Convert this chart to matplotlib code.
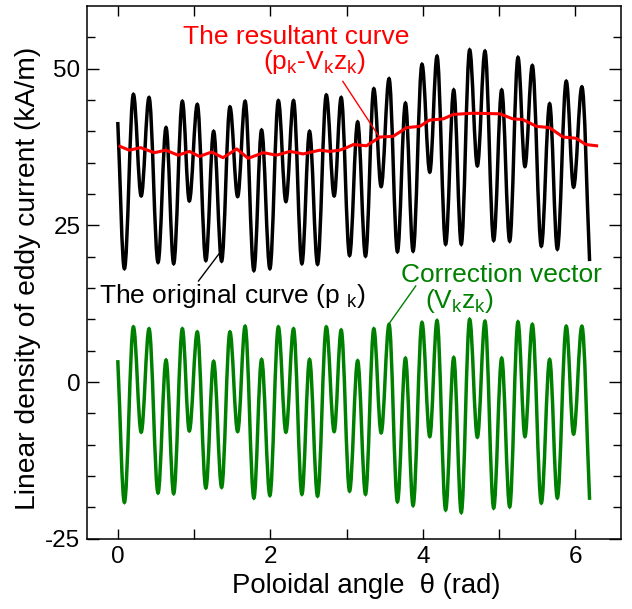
import numpy as np
import matplotlib
matplotlib.use("Agg")
import matplotlib.pyplot as plt
from matplotlib.path import Path
from matplotlib.patches import PathPatch

plt.rcParams['font.family'] = ['Liberation Sans', 'DejaVu Sans']
plt.rcParams['mathtext.fontset'] = 'custom'
plt.rcParams['mathtext.rm'] = 'Liberation Sans'
plt.rcParams['axes.unicode_minus'] = False

# turning points (rad) shared by the original curve and the correction vector
theta_ext = [0.0, 0.087, 0.205, 0.307, 0.41, 0.528, 0.633, 0.733, 0.847, 0.938,
             1.043, 1.155, 1.257, 1.362, 1.471, 1.572, 1.67, 1.785, 1.886, 1.995,
             2.106, 2.205, 2.305, 2.415, 2.515, 2.62, 2.735, 2.838, 2.93, 3.04,
             3.146, 3.249, 3.358, 3.454, 3.558, 3.668, 3.773, 3.873, 3.99, 4.092,
             4.187, 4.3, 4.406, 4.505, 4.615, 4.716, 4.816, 4.93, 5.035, 5.14,
             5.249, 5.34, 5.437, 5.555, 5.664, 5.765, 5.882, 5.978, 6.087, 6.188]

# original curve p_k (kA/m)
original = [41.5, 18.1, 45.9, 29.7, 45.4, 19.1, 40.6, 18.9, 44.8, 28.9,
            44.3, 19.4, 40.0, 19.3, 43.9, 29.6, 44.8, 17.8, 40.2, 18.1,
            44.9, 28.8, 44.9, 18.9, 40.0, 18.8, 45.8, 29.7, 45.4, 20.2,
            41.5, 20.1, 46.8, 31.2, 48.4, 20.8, 44.5, 20.9, 50.7, 33.5,
            52.0, 22.0, 46.6, 22.0, 53.0, 34.5, 52.8, 22.6, 46.6, 22.5,
            51.8, 34.4, 50.5, 21.7, 44.4, 21.2, 48.0, 31.1, 47.1, 19.3]

# correction vector V_k z_k (kA/m)
correction = [3.5, -19.2, 8.8, -8.0, 8.5, -17.7, 3.5, -17.8, 8.5, -7.8,
              8.0, -16.9, 3.3, -16.8, 8.0, -7.9, 8.9, -18.5, 3.6, -18.1,
              8.8, -8.0, 8.5, -17.9, 3.6, -18.2, 8.8, -7.9, 8.3, -17.4,
              3.4, -17.9, 8.5, -8.1, 9.2, -19.1, 3.8, -19.7, 9.5, -8.7,
              9.8, -20.4, 3.9, -20.8, 10.0, -8.8, 9.7, -20.1, 3.8, -19.9,
              9.6, -8.7, 9.2, -19.3, 3.6, -18.5, 8.9, -8.3, 8.9, -18.8]

# resultant curve p_k - V_k z_k
theta_res = [0.03, 0.15, 0.30, 0.48, 0.63, 0.79, 0.94, 1.07, 1.23, 1.38,
             1.56, 1.71, 1.91, 2.08, 2.26, 2.43, 2.65, 2.78, 2.91, 3.0,
             3.09, 3.26, 3.44, 3.61, 3.79, 3.96, 4.09, 4.27, 4.40, 4.66,
             5.01, 5.18, 5.31, 5.49, 5.66, 5.84, 6.01, 6.14, 6.28]
resultant = [37.6, 37.0, 37.4, 36.6, 37.0, 36.2, 36.8, 36.0, 36.7, 35.8,
             37.2, 35.7, 36.6, 36.2, 36.8, 36.4, 37.0, 36.8, 37.0, 37.4,
             37.9, 37.7, 39.1, 39.2, 40.6, 40.8, 41.8, 42.0, 42.7, 42.9,
             42.8, 42.0, 41.9, 40.8, 40.6, 39.1, 38.9, 37.9, 37.7]


def smooth_curve(xs, ys, k=0.36):
    # cubic segments between turning points, flat at each extremum
    verts = [(xs[0], ys[0])]
    codes = [Path.MOVETO]
    n = len(xs)
    for i in range(n - 1):
        x0, y0, x1, y1 = xs[i], ys[i], xs[i + 1], ys[i + 1]
        dx, dy = x1 - x0, y1 - y0
        c1 = (x0 + k * dx, y0 + (k * dy if i == 0 else 0))
        c2 = (x1 - k * dx, y1 - (k * dy if i == n - 2 else 0))
        verts += [c1, c2, (x1, y1)]
        codes += [Path.CURVE4] * 3
    return Path(verts, codes)


fig = plt.figure(figsize=(6.32, 6.09), dpi=100)
ax = fig.add_axes([0.1381, 0.1154, 0.8445, 0.8747])

ax.plot(theta_res, resultant, color='#ff0000', lw=2.2, solid_joinstyle='round')
ax.add_patch(PathPatch(smooth_curve(theta_ext, original), fill=False,
                       ec='black', lw=2.5))
ax.add_patch(PathPatch(smooth_curve(theta_ext, correction), fill=False,
                       ec='#008000', lw=2.5))

ax.set_xlim(-0.4, 6.6)
ax.set_ylim(-25, 60)
ax.set_xticks([0, 2, 4, 6])
ax.set_xticks([1, 3, 5], minor=True)
ax.set_yticks([-25, 0, 25, 50])
ax.set_yticks(np.arange(-20, 60, 5), minor=True)
ax.tick_params(which='both', direction='in', top=True, right=True,
               labelsize=17.5, width=1.0, pad=5)
ax.tick_params(axis='x', which='both', length=7.5)
ax.tick_params(axis='y', which='major', length=8.4)
ax.tick_params(axis='y', which='minor', length=5.5)
for s in ax.spines.values():
    s.set_linewidth(1.1)

ax.set_xlabel('Poloidal angle  θ (rad)', fontsize=19.8, labelpad=4)
ax.xaxis.label.set_x(0.522)
ax.set_ylabel('Linear density of eddy current (kA/m)', fontsize=20.3)
ax.yaxis.set_label_coords(-0.0868, 0.488)

tk = dict(fontsize=19, ha='left', va='baseline')
ax.text(0.859, 54.0, 'The resultant curve', color='#ff0000', **tk)
ax.text(1.908, 50.0, r'(p$\mathregular{_k}$-V$\mathregular{_k}$z$\mathregular{_k}$)',
        color='#ff0000', **tk)
ax.text(-0.252, 12.66, r'The original curve (p $\mathregular{_k}$)', color='black', **tk)
ax.text(3.712, 15.97, 'Correction vector', color='#008000', **tk)
ax.text(4.026, 11.8, r'(V$\mathregular{_k}$z$\mathregular{_k}$)', color='#008000', **tk)

ax.plot([2.952, 3.436], [47.97, 39.0], color='#ff0000', lw=1.0)
ax.plot([1.059, 1.327], [16.13, 20.45], color='black', lw=1.0)
ax.plot([3.554, 3.908], [9.25, 15.33], color='#008000', lw=1.0)

fig.savefig('out.png', dpi=100)
